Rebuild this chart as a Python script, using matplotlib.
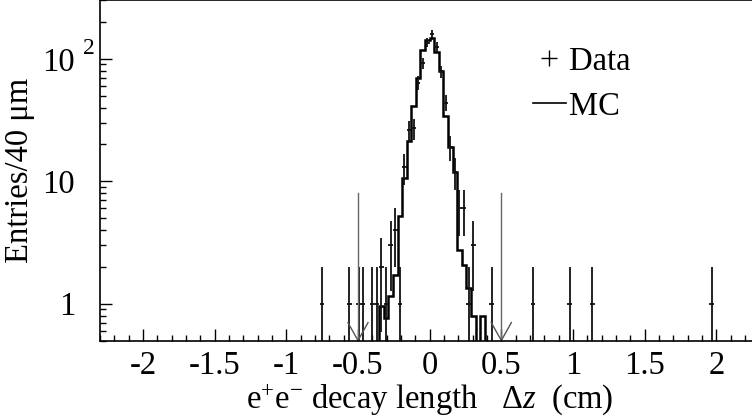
import numpy as np
import matplotlib
matplotlib.use("Agg")
import matplotlib.pyplot as plt
from matplotlib.lines import Line2D
from matplotlib.ticker import FixedLocator, NullFormatter, LogLocator

plt.rcParams['font.family'] = ['Liberation Serif', 'DejaVu Serif']
plt.rcParams['mathtext.fontset'] = 'custom'
plt.rcParams['mathtext.rm'] = 'Liberation Serif'
plt.rcParams['mathtext.it'] = 'Liberation Serif:italic'

# ---------------- data ----------------
bin_width = 0.032  # cm
# MC histogram: bin lower edges index -13 .. 12 (bin i covers [i*w,(i+1)*w])
mc_first_bin = -13
mc_values = [0, 0, 0.96, 0.76, 1.15, 1.73, 5.2, 10.6, 21.5, 41, 69.6, 118, 142,
             148, 113, 79, 34, 19.2, 12, 2.76, 2.08, 1.34, 0.79, 0, 0.79, 0]

# Data: bin centres (cm) and counts
data_z = [-0.752, -0.560, -0.496, -0.464, -0.400, -0.368, -0.336, -0.304, -0.272,
          -0.240, -0.208, -0.176, -0.144, -0.112, -0.080, -0.048, -0.016,
          0.016, 0.048, 0.080, 0.112, 0.144, 0.176, 0.208, 0.240, 0.272,
          0.304, 0.432, 0.720, 0.976, 1.136, 1.968]
data_n = [1, 1, 1, 1, 1, 1, 2, 1, 3,
          4, 1, 13, 26, 27, 64, 92, 136,
          160, 126, 79, 44, 19, 12, 6, 6, 1,
          3, 1, 1, 1, 1, 1]

cut_positions = [-0.5, 0.5]
cut_height = 8.0

xticks = [-2, -1.5, -1, -0.5, 0, 0.5, 1, 1.5, 2]
xticklabels = ['-2', '-1.5', '-1', '-0.5', '0', '0.5', '1', '1.5', '2']
yticks = [1, 10, 100]
yticklabels = ['1', '10', '10']

x_range = (-2.3, 2.3)
y_range = (0.5, 300)

# ---------------- figure ----------------
W, H = 752, 419
fig = plt.figure(figsize=(W / 100, H / 100), dpi=100)
ax = fig.add_axes([100 / W, (H - 340.5) / H, 659.3 / W, 340 / H])
ax.set_xlim(*x_range)
ax.set_yscale('log')
ax.set_ylim(*y_range)

# MC histogram
mc = np.array(mc_values, dtype=float)
edges = (mc_first_bin + np.arange(len(mc) + 1)) * bin_width
ax.stairs(np.where(mc > 0, mc, 1e-3), edges, color='black', lw=1.8, baseline=None)

# data with error bars
dz = np.array(data_z)
dn = np.array(data_n, dtype=float)
err = np.sqrt(dn)
lo = np.minimum(err, dn - 1e-3)
ax.errorbar(dz, dn, xerr=bin_width / 2, yerr=[lo, err], fmt='none',
            ecolor='#111111', elinewidth=1.3, capsize=0)

# cut arrows
for c in cut_positions:
    ax.plot([c, c], [y_range[0], cut_height], color='#666666', lw=1.0)
    ax.plot([c - 0.07, c, c + 0.07], [0.70, y_range[0], 0.70], color='#555555', lw=1.0,
            clip_on=False)

# ticks
ax.xaxis.set_major_locator(FixedLocator(xticks))
ax.set_xticklabels(xticklabels)
ax.xaxis.set_minor_locator(FixedLocator(np.round(np.arange(-2.3, 2.31, 0.1), 2)))
ax.yaxis.set_major_locator(FixedLocator(yticks))
ax.set_yticklabels(yticklabels)
ax.yaxis.set_minor_locator(LogLocator(base=10, subs=np.arange(2, 10)))
ax.yaxis.set_minor_formatter(NullFormatter())
ax.tick_params(axis='both', which='both', direction='in', top=False, right=False,
               width=1.0, colors='black')
ax.tick_params(axis='x', which='major', length=8.5, pad=7, labelsize=23.5)
ax.tick_params(axis='x', which='minor', length=4.3)
ax.tick_params(axis='y', which='major', length=8.5, pad=18, labelsize=23.5)
ax.tick_params(axis='y', which='minor', length=4.3)
for s in ax.spines.values():
    s.set_linewidth(1.2)

ax.annotate('2', xy=(0, 100), xycoords=('axes fraction', 'data'),
            xytext=(-12.5, 7.5), textcoords='offset points', fontsize=17,
            ha='left', va='center')

ax.set_xlabel(r'e$^{+}$e$^{-}$ decay length   $\Delta\mathit{z}$  (cm)', fontsize=23.5,
              labelpad=0.5)
ax.set_ylabel('Entries/40 μm', fontsize=23.5, labelpad=5)

# legend
handles = [Line2D([], [], color='black', marker='+', linestyle='none',
                  markersize=12, mew=1.0),
           Line2D([], [], color='black', lw=1.2)]
leg = ax.legend(handles, ['Data', 'MC'], loc='upper left', frameon=False,
                bbox_to_anchor=(533 / W, 1 - 46 / H), bbox_transform=fig.transFigure,
                fontsize=23.5, handlelength=1.0, handletextpad=0.1,
                labelspacing=0.45, borderpad=0, borderaxespad=0)

fig.savefig('out.png', dpi=100)
